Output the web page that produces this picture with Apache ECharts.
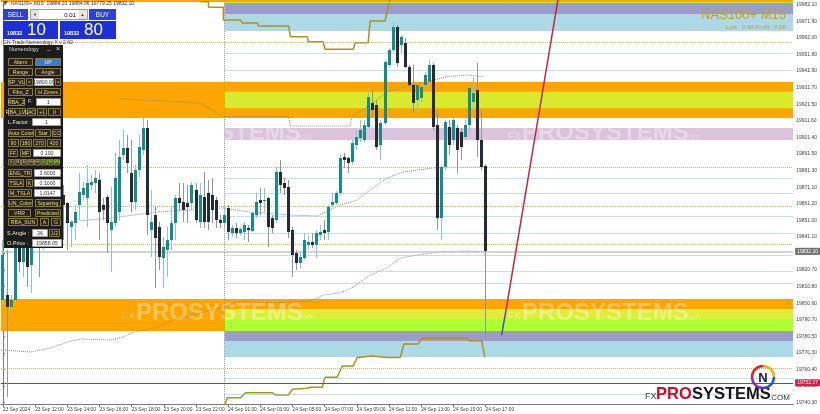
<!DOCTYPE html>
<html><head><meta charset="utf-8">
<script src="https://cdn.jsdelivr.net/npm/echarts@6/dist/echarts.min.js"></script>
<style>html,body{margin:0;padding:0;background:#fff;overflow:hidden}#c{width:820px;height:414px}</style>
</head><body><div id="c"></div>
<script>
// ---------- DATA ----------
const timeLabels = ['23 Sep 2024','23 Sep 12:00','23 Sep 14:00','23 Sep 16:00','23 Sep 18:00','23 Sep 20:00','23 Sep 22:00','24 Sep 01:00','24 Sep 03:00','24 Sep 05:00','24 Sep 07:00','24 Sep 09:00','24 Sep 11:00','24 Sep 13:00','24 Sep 15:00','24 Sep 17:00'];
const timeTickBars = [0,8,16,24,32,40,48,56,64,72,80,88,96,104,112,120];
const priceTicks = [19982.10,19971.90,19962.00,19951.80,19941.90,19931.70,19921.50,19911.60,19901.40,19891.50,19881.30,19871.10,19861.20,19851.00,19841.10,19830.90,19820.70,19810.80,19800.60,19790.70,19780.50,19770.30,19760.40,19750.20,19740.30];

const opens = [19802.5,19805.5,19798.2,19802.5,19839.0,19825.6,19842.0,19823.8,19843.9,19857.2,19836.0,19860.3,19872.4,19854.2,19869.4,19866.4,
19861.5,19846.9,19849.3,19860.3,19866.4,19864.5,19872.4,19873.7,19875.5,19860.3,19865.1,19845.1,19849.3,19856.0,19890.7,19895.0,19879.7,19862.1,19881.6,19893.7,19907.1,19845.1,19854.2,19846.9,19828.0,19832.9,19839.0,19849.3,19864.5,19862.1,19861.5,19861.5,19869.4,19849.9,19865.1,19867.6,19866.4,19863.3,19851.2,19849.3,
19858.5,19843.3,19846.3,19843.3,19843.9,19846.3,19844.5,19854.2,19863.3,19862.7,19864.5,19852.4,19851.2,19880.4,19873.7,19871.2,19845.1,19831.1,19825.0,19828.0,19836.0,19837.8,19836.0,19842.0,19845.1,19843.9,19860.3,19861.5,19867.6,19889.5,19888.9,19886.4,19896.8,19901.0,19899.8,19907.7,19922.3,19921.1,19896.8,19910.2,19945.4,19954.6,19968.5,19957.6,19958.8,19944.2,19933.3,19924.1,19925.4,19933.3,19935.1,19945.4,19908.9,19852.4,19883.4,19907.7,19899.8,19907.1,19904.7,19901.6,19908.9,19922.9,19930.2,19899.8,19884.20];
const closes = [19829.9,19798.2,19802.5,19839.0,19825.6,19842.0,19822.6,19845.1,19857.2,19836.0,19860.3,19872.4,19854.2,19869.4,19857.2,19860.3,
19849.3,19849.9,19856.0,19868.2,19870.6,19873.7,19874.3,19876.7,19856.0,19857.2,19849.3,19849.9,19876.7,19889.5,19895.0,19885.8,19862.1,19881.6,19895.6,19907.1,19854.2,19849.9,19840.2,19828.7,19834.7,19839.0,19849.3,19864.5,19861.5,19857.2,19859.1,19872.4,19851.2,19866.4,19849.9,19849.9,19857.2,19851.2,19849.3,19854.2,
19843.9,19846.3,19843.3,19845.7,19848.1,19845.1,19855.4,19862.1,19861.5,19863.3,19846.9,19846.3,19880.4,19872.4,19870.6,19843.9,19829.9,19825.0,19828.7,19839.0,19837.8,19836.0,19843.3,19843.9,19843.3,19859.1,19862.1,19867.6,19888.9,19887.6,19885.8,19898.0,19901.6,19905.9,19908.9,19926.0,19918.1,19895.6,19910.2,19947.3,19954.6,19968.5,19946.6,19962.5,19944.2,19933.3,19922.3,19933.3,19932.0,19939.3,19945.4,19907.7,19852.4,19883.4,19910.8,19896.8,19912.0,19893.7,19895.6,19908.9,19931.4,19928.4,19899.8,19883.4,19832.10];
const highs = [19839.0,19832.9,19805.5,19845.1,19848.1,19851.2,19848.1,19854.2,19866.4,19863.3,19869.4,19881.6,19878.5,19875.5,19875.5,19872.4,
19862.1,19851.2,19860.3,19879.7,19874.3,19884.6,19878.5,19881.6,19879.7,19864.5,19866.4,19871.2,19891.9,19899.8,19905.9,19902.9,19899.8,19884.6,19902.9,19913.2,19912.0,19869.4,19859.1,19849.9,19840.8,19846.9,19859.1,19866.4,19873.7,19873.7,19872.4,19874.3,19873.7,19873.7,19880.4,19875.5,19876.7,19865.1,19854.2,19859.1,
19860.3,19848.1,19849.3,19846.9,19849.9,19848.1,19856.0,19867.6,19870.6,19870.6,19865.1,19854.2,19883.4,19887.6,19876.7,19875.5,19846.9,19832.9,19831.7,19843.3,19842.0,19843.3,19845.1,19848.1,19851.2,19860.3,19867.6,19868.8,19890.7,19891.9,19889.5,19899.8,19905.9,19912.0,19912.0,19931.4,19930.2,19924.1,19912.0,19948.5,19955.8,19971.6,19969.8,19963.7,19961.9,19945.4,19945.4,19934.5,19933.3,19941.2,19948.5,19946.6,19918.1,19884.6,19912.0,19912.0,19915.0,19908.9,19907.1,19912.0,19932.7,19938.1,19946.6,19918.1,19884.96];
const lows = [19799.5,19743.5,19796.4,19801.3,19819.5,19816.5,19810.4,19806.8,19839.0,19816.5,19832.9,19854.2,19845.1,19848.1,19842.0,19839.0,
19832.9,19834.7,19839.0,19851.2,19863.3,19846.9,19869.4,19867.6,19839.0,19851.2,19831.1,19819.5,19846.9,19851.2,19887.6,19879.7,19856.0,19857.2,19877.3,19890.7,19842.0,19828.7,19809.8,19820.8,19809.8,19816.5,19832.9,19839.0,19857.2,19849.9,19849.3,19857.2,19849.3,19846.3,19846.3,19845.1,19849.3,19846.3,19846.3,19846.9,
19839.0,19840.8,19840.2,19842.0,19839.0,19837.8,19843.9,19852.4,19854.2,19856.0,19834.7,19843.3,19849.3,19867.6,19866.4,19840.2,19816.5,19820.8,19822.0,19826.8,19832.9,19834.1,19828.0,19839.0,19839.0,19839.0,19859.1,19860.3,19866.4,19882.8,19879.7,19884.6,19893.7,19898.6,19898.6,19907.1,19913.8,19893.7,19887.6,19908.9,19944.2,19953.3,19944.2,19952.7,19943.6,19932.0,19916.2,19916.8,19922.9,19932.0,19933.3,19905.9,19845.1,19839.0,19881.6,19890.7,19896.8,19879.7,19887.6,19899.8,19904.1,19918.1,19889.5,19881.6,19779.25];

const currentPrice = 19832.10;
const redLevel = 19752.17;
const zoneStart = 55.1; // bar position where 24 Sep zones begin

// zone bounds [low, high]
const topBand = [19983.7, 19986];
const mainZone = [19913.2, 19935.1];
const lowZone = [19783.6, 19803.1];
const upPurple = [19976.4, 19983.7];
const upBlue = [19966.1, 19976.4];
const innerYG = [19919.1, 19929.2];
const thistleBand = [19899.8, 19907.1];
const lowYellow = [19791.0, 19797.0];
const lowGreen = [19783.6, 19791.0];
const lowPurple = [19777.5, 19783.6];
const lowBlue = [19767.8, 19777.5];

const goldLevels = [19959.1, 19883.1, 19859.4, 19836.2, 19760.9];
const tealLevels = [19952.5, 19942.4, 19876.7, 19867.4, 19853.2, 19843.4, 19829.9, 19819.7, 19812.7, 19754.9, 19745.3];

const upperStep = [[49.1,19983.9],[51.1,19983.9],[51.1,19980.5],[54.8,19980.5],[54.8,19972.8],[59.1,19972.8],[59.5,19971.0],[63.3,19971.0],[63.5,19969.1],[71.0,19969.1],[71.5,19962.6],[75.7,19962.6],[75.9,19959.6],[79.6,19959.6],[80.1,19955.0],[87.1,19955.0],[87.6,19959.0],[90.8,19959.0],[91.3,19972.2],[95.0,19972.2],[96.6,19990]];
const lowerStep = [[54.8,19736],[55.8,19743.1],[59.1,19743.1],[60.3,19746.1],[67.0,19746.1],[67.7,19744.7],[71.0,19744.7],[72.0,19748.2],[75.7,19748.8],[76.4,19749.4],[79.4,19749.4],[80.1,19755.5],[83.1,19755.5],[84.4,19762.4],[87.1,19762.4],[88.1,19767.6],[91.8,19768.4],[95.5,19767.6],[98.8,19767.6],[99.7,19775.7],[103.2,19775.7],[104.2,19779.2],[115.4,19779.2],[115.9,19777.7],[119.1,19777.7],[119.8,19767.6]];
const maUpper = [[29,19925.0],[40,19923.5],[49.1,19922.1],[54.8,19914.0],[71.0,19914.0],[71.5,19908.3],[86.3,19908.3],[86.8,19914.0],[91.3,19921.1],[95.5,19929.2],[98.8,19931.3],[102.0,19933.3],[107.0,19936.3],[110.4,19938.3],[115.4,19939.3],[119.4,19938.3]];
const maMiddle = [[15.6,19849.9],[26.8,19852.4],[38.5,19856.0],[54.8,19858.5],[61.5,19856.0],[71.5,19854.2],[78.2,19853.6],[83.9,19860.3],[88.1,19863.3],[91.3,19869.4],[95.5,19876.7],[99.5,19880.4],[107.0,19882.8],[119.4,19883.4]];
const maLower = [[-0.5,19772.1],[6.9,19770.9],[11.9,19773.3],[16.1,19777.0],[19.4,19778.8],[26.8,19778.2],[30.0,19780.0],[32.5,19783.0],[38.5,19786.1],[42.4,19790.4],[49.1,19794.6],[54.8,19798.2],[59.1,19801.9],[65.8,19800.7],[70.7,19801.3],[76.4,19801.9],[79.6,19805.5],[83.9,19806.8],[87.1,19810.4],[91.3,19817.7],[95.5,19822.0],[98.8,19828.0],[103.0,19829.9],[108.7,19831.7],[115.4,19832.3],[119.4,19831.7],[120.1,19828.7]];
const angleBlue = [[124.0,19781.2],[125.1,19796.4]];
const angleRed = [[125.1,19796.4],[138.0,19984.96]];

// ---------- CHART ----------
const candleData = opens.map((o,i)=>[i,o,closes[i],lows[i],highs[i]]);
const chart = echarts.init(document.getElementById('c'), null, {renderer:'canvas'});
const FONT = '"Liberation Sans", Arial, sans-serif';

function renderCandle(params, api){
  const i=api.value(0), o=api.value(1), c=api.value(2), l=api.value(3), h=api.value(4);
  const po=api.coord([i,o]), pc=api.coord([i,c]), pl=api.coord([i,l]), ph=api.coord([i,h]);
  const x=Math.round(po[0]-0.5);
  const up=c>=o;
  const top=Math.round(Math.min(po[1],pc[1])), bot=Math.round(Math.max(po[1],pc[1]));
  return {type:'group', children:[
    {type:'line', shape:{x1:x+0.5,y1:Math.round(ph[1]),x2:x+0.5,y2:Math.round(pl[1])}, style:{stroke: up?'#86c9cc':'#8e959c', lineWidth:1}},
    {type:'rect', shape:{x:x-1,y:top,width:3,height:Math.max(1,bot-top)}, style:{fill: up?'#168b8c':'#252a34'}}
  ]};
}

function band(r, color, partial){
  if(partial) return [{xAxis:zoneStart,yAxis:r[0],itemStyle:{color}},{xAxis:196.5,yAxis:r[1]}];
  return [{yAxis:r[0],itemStyle:{color}},{yAxis:r[1]}];
}

// ---------- GRAPHIC (panels, labels, logo) ----------
const G=[];
function R(x,y,w,h,fill,stroke,z){G.push({type:'rect',z:z||100,shape:{x,y,width:w,height:h},style:{fill,stroke:stroke||null,lineWidth:stroke?1:0}});}
function T(x,y,text,size,color,align,weight,z){G.push({type:'text',z:z||101,x,y,style:{text,font:(weight||'normal')+' '+size+'px '+FONT,fill:color,textAlign:align||'left',textVerticalAlign:'middle'}});}
function B(x,y,w,h,text,fill,tc){R(x+0.5,y+0.5,w,h,fill||'#2d2617','#8c7c3a');T(x+w/2+0.5,y+h/2+0.8,text,5.2,tc||'#e8d8a0','center');}
function I(x,y,w,h,text){R(x+0.5,y+0.5,w,h,'#ffffff','#a0a0a0');T(x+w/2+0.5,y+h/2+0.8,text,5.2,'#333','center');}

// watermarks
function WM(x,y,a){const c='rgba(255,255,255,'+a+')';T(x,y+4,'FX',10,c,'left','normal',3);T(x+14,y,'PROSYSTEMS',24,c,'left','bold',3);T(x+173,y+5,'.com',9,c,'left','normal',3);}
WM(122,313,0.35); WM(508,313,0.35);
WM(120,133,0.35); WM(508,133,0.35);

// header
G.push({type:'polygon',z:101,shape:{points:[[3,1],[8,1],[5.5,5]]},style:{fill:'#555'}});
T(11,3.5,'NAS100+,M15  19884.20 19884.96 19779.25 19832.10',5,'#333');
// trade panel
R(3,9,25,11,'#2b3fe2'); T(15.5,15,'SELL',6.5,'#fff','center');
R(30.5,9.5,57,10,'#ffffff','#9a9a9a'); R(31,10,8,9,'#e4e4e4'); T(35,15,'▼',4,'#333','center'); T(70,15,'0.01',6,'#000','center'); R(78.5,10,8,9,'#e4e4e4'); T(82.5,15,'▲',4,'#333','center');
R(89,9,27,11,'#2b3fe2'); T(102.5,15,'BUY',6.5,'#fff','center');
R(3,21,55,18,'#1d30d8'); T(7,33.5,'19832',5.5,'#fff','left','bold'); T(27,30.5,'10',17,'#fff','left');
R(60,21,56,18,'#1d30d8'); T(64,33.5,'19832',5.5,'#fff','left','bold'); T(84,30.5,'80',17,'#fff','left');
T(3,43,'GN Trade Numerology X v 2.60',5,'#333');
// numerology panel
R(4,45,59,203,'#1c1c1c');
T(9,49.5,'Numerology',5.5,'#d8d8d8'); T(49,48.5,'_',6,'#ddd','center'); T(58,49.5,'×',7,'#ddd','center');
B(8,58,24,7,'Alarm'); B(35,58,25,7,'UP','#3d7cc9','#f0f0f0');
B(8,68,24,7,'Range'); B(35,68,25,7,'Angle');
B(8,78,16,7,'SP_VL'); B(26,78,6,7,'<'); I(34,78,19,7,'19800.00'); B(55,78,5,7,'>');
B(8,88,24,7,'Fibo_Z'); B(35,88,25,7,'H Zones');
B(8,98,16,7,'RBA_Z'); T(28,102,'F:',5.2,'#e8d8a0'); I(36,98,24,7,'1');
B(8,108,17,7,'RBA_LVL'); B(27,108,8,7,'AC'); B(37,108,9,7,'+1'); B(48,108,12,7,'0');
T(8,122,'L.Factor :',5.5,'#f0e8c8'); I(32,118,28,7,'1');
B(8,129,25,7,'Auto Color'); B(35,129,15,7,'Star'); B(52,129,8,7,'CC');
B(8,139,10,7,'90'); B(20,139,11,7,'180'); B(33,139,12,7,'270'); B(47,139,13,7,'420');
B(8,149,9,7,'FF'); B(20,149,10,7,'MF'); I(33,149,27,7,'0.100');
['S','M','30','H1','H4','D','W','MN'].forEach((s,k)=>{R(8.5+k*6.5,159.5,5.5,5.5,k>4?'#3c5a1a':'#3a3220','#8c7c3a');T(11.2+k*6.5,162.5,s,3.5,k>4?'#b8f040':'#e8d8a0','center');});
B(8,169,23,7,'ENG_TR'); I(34,169,26,7,'3.6000');
B(8,179,15,7,'TSLA'); B(26,179,6,7,'K'); I(34,179,26,7,'0.1000');
B(8,189,23,7,'M_TSLA'); I(34,189,26,7,'1.0147');
B(8,199,24,7,'UN_Color'); B(35,199,25,7,'Squaring');
B(8,209,22,7,'VRR'); B(35,209,25,7,'Predicted');
B(8,218,29,7,'RBA_SUN'); B(40,218,8,7,'A'); B(51,218,9,7,'G');
T(7,233,'S.Angle :',5.5,'#f0e8c8'); I(32,229,15,7,'36'); B(49,229,10,7,'1/2');
T(7,243,'O.Price :',5.5,'#f0e8c8'); I(32,239,29,7,'19858.05');
// symbol text top-right
T(786,15.5,'NAS100+ M15',13,'#c9a10c','right');
T(786,27.5,'Lots : 0.00 Profit : 0.00',6,'#b09a4a','right');
// logo bottom right
T(645,397,'FX',9,'#3a3a3a','left','normal',102);
T(656,394.5,'PRO',16.5,'#c8102e','left','bold',102);
T(692,394.5,'SYSTEMS',16.5,'#151515','left','bold',102);
T(769,398,'.COM',8,'#333','left','normal',102);
[['#e8202a',180,270],['#f0b010',270,360],['#2a50d0',0,90],['#8a2ab0',90,180]].forEach(a=>{
  G.push({type:'arc',z:102,shape:{cx:763,cy:377,r:11,startAngle:a[1]*Math.PI/180,endAngle:a[2]*Math.PI/180},style:{stroke:a[0],lineWidth:2.5,fill:null}});
});
T(763,378,'N',13,'#1a1a40','center','bold',103);

const option = {
  animation:false,
  backgroundColor:'#ffffff',
  grid:{left:0,right:26,top:0,bottom:10},
  xAxis:{type:'value',min:-0.5,max:196.5,
    axisLine:{show:true,onZero:false,lineStyle:{color:'#7a7a7a'}},
    splitLine:{show:false},
    axisTick:{show:true,customValues:timeTickBars,length:3,lineStyle:{color:'#7a7a7a'}},
    axisLabel:{customValues:timeTickBars,showMinLabel:true,showMaxLabel:true,hideOverlap:false,formatter:v=>timeLabels[timeTickBars.indexOf(Math.round(v))]||'',fontSize:4.8,fontFamily:FONT,color:'#444',align:'left',margin:3}},
  yAxis:{type:'value',position:'right',min:19739.25,max:19984.96,scale:true,
    axisLine:{show:true,lineStyle:{color:'#7a7a7a'}},
    splitLine:{show:false},
    axisTick:{show:true,customValues:priceTicks,length:2,lineStyle:{color:'#7a7a7a'}},
    axisLabel:{customValues:priceTicks,showMinLabel:true,showMaxLabel:true,formatter:v=>v.toFixed(2),fontSize:5,fontFamily:FONT,color:'#444',margin:3}},
  graphic:{elements:G},
  series:[
    {type:'line',data:[],z:1,silent:true,
      markArea:{silent:true,itemStyle:{opacity:1},data:[
        band(topBand,'#ffa500'),band(mainZone,'#ffa500'),band(lowZone,'#ffa500'),
        band(upPurple,'#9c9ccb',true),band(upBlue,'#add8e6',true),band(innerYG,'#d8ea2b',true),
        band(thistleBand,'#dcc2dc',true),band(lowYellow,'#dcee3a',true),band(lowGreen,'#adff2f',true),
        band(lowPurple,'#9c9ccb',true),band(lowBlue,'#add8e6',true)
      ]}},
    {type:'line',data:[],z:2,silent:true,
      markLine:{silent:true,symbol:'none',label:{show:false},data:[
        ...goldLevels.map(p=>({yAxis:p,lineStyle:{color:'#c8b86a',type:'dotted',width:1}})),
        ...tealLevels.map(p=>[{xAxis:zoneStart,yAxis:p,lineStyle:{color:'#8cc4d2',type:'dotted',width:1}},{xAxis:196.5,yAxis:p}]),
        {xAxis:zoneStart,lineStyle:{color:'#9a9a9a',type:'dotted',width:1}},
        [{xAxis:zoneStart,yAxis:19983.6,lineStyle:{color:'#b6f03c',type:'solid',width:1}},{xAxis:196.5,yAxis:19983.6}]
      ]}},
    {type:'line',data:maUpper,z:4,showSymbol:false,silent:true,lineStyle:{color:'#8a8a8a',width:1,type:'dotted'}},
    {type:'line',data:maMiddle,z:4,showSymbol:false,silent:true,lineStyle:{color:'#8a8a8a',width:1,type:'dotted'}},
    {type:'line',data:maLower,z:4,showSymbol:false,silent:true,lineStyle:{color:'#8a8a8a',width:1,type:'dotted'}},
    {type:'line',data:upperStep,z:4,showSymbol:false,silent:true,lineStyle:{color:'#b0901e',width:1.5}},
    {type:'line',data:lowerStep,z:4,showSymbol:false,silent:true,lineStyle:{color:'#b0901e',width:1.5}},
    {type:'line',data:[],z:4,silent:true,
      markLine:{silent:true,symbol:'none',data:[
        {yAxis:currentPrice,lineStyle:{color:'#c4c4c8',type:'solid',width:1.5},label:{show:true,position:'end',formatter:currentPrice.toFixed(2),backgroundColor:'#707070',color:'#fff',fontSize:5,fontFamily:FONT,padding:[1,2],distance:2}},
        {yAxis:redLevel,lineStyle:{color:'#d81e48',type:'solid',width:1},label:{show:true,position:'end',formatter:redLevel.toFixed(2),backgroundColor:'#d81e48',color:'#fff',fontSize:5,fontFamily:FONT,padding:[1,2],distance:2}}
      ]}},
    {type:'custom',z:6,data:candleData,renderItem:renderCandle,encode:{x:0,y:[1,2,3,4]},silent:true,clip:true},
    {type:'line',data:angleBlue,z:7,showSymbol:false,silent:true,lineStyle:{color:'#4a4ad0',width:1.5}},
    {type:'line',data:angleRed,z:7,showSymbol:false,silent:true,lineStyle:{color:'#c02840',width:1.5}}
  ]
};
chart.setOption(option);
</script>
</body></html>
